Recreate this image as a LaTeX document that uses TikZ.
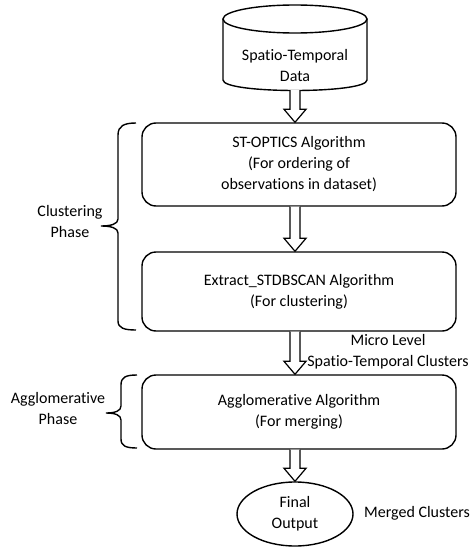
\documentclass[tikz,border=0pt]{standalone}
\usepackage{fontspec}
\setmainfont{Carlito}[Ligatures=NoCommon]
\usetikzlibrary{calc,shapes.geometric}
\newcommand\harrow[2]{%
  \draw[harr] ($(ax |- #1.south)+(-5,0)$) -- ($(ax |- #2.north)+(-5,-13)$) -- ($(ax |- #2.north)+(-11,-13)$) -- (ax |- #2.north) -- ($(ax |- #2.north)+(11,-13)$) -- ($(ax |- #2.north)+(5,-13)$) -- ($(ax |- #1.south)+(5,0)$);}
\begin{document}
\begin{tikzpicture}[x=1pt,y=-1pt,
  every node/.style={font=\fontsize{16}{21}\selectfont, align=center, inner sep=0pt},
  box/.style={draw, line width=1.4pt, rounded corners=14pt, minimum width=314pt},
  harr/.style={draw, line width=1.2pt, fill=white, line join=miter},
  brace/.style={draw, line width=1.4pt}]
\useasboundingbox (0,0) rectangle (472,551);
\coordinate (ax) at (295,0);
% cylinder
\node[minimum width=144pt, minimum height=85pt] (cyl) at (295,47.5) {};
\draw[line width=1.4pt, fill=white] (223,19) -- (223,80) .. controls (223,94) and (367,94) .. (367,80) -- (367,19);
\draw[line width=1.4pt] (295,19) ellipse [x radius=72, y radius=14];
\node (cyltxt) at (295,66) {Spatio-Temporal\\Data};
% boxes
\node[box, minimum height=83pt] (b1) at (299,164.5) {ST-OPTICS Algorithm\\(For ordering of\\observations in dataset)};
\node[box, minimum height=79pt] (b2) at (299,291.5) {Extract\_STDBSCAN Algorithm\\(For clustering)};
\node[box, minimum height=74pt] (b3) at (299,412) {Agglomerative Algorithm\\(For merging)};
\node[draw, ellipse, line width=1.4pt, minimum width=116pt, minimum height=64pt] (fin) at (295,514) {Final\\Output};
% arrows
\harrow{cyl}{b1}
\harrow{b1}{b2}
\harrow{b2}{b3}
\harrow{b3}{fin}
% labels
\node (micro) at (388,352) {Micro Level\\Spatio-Temporal Clusters};
\node (merged) at (417,513) {Merged Clusters};
\node (clus) at (70,222) {Clustering\\Phase};
\node (aggl) at (58,408) {Agglomerative\\Phase};
% braces
\coordinate (br1t) at (136,123);
\coordinate (br1b) at (136,330);
\coordinate (br1m) at (101,226);
\draw[brace] (br1t) .. controls (124,123) and (118,126) .. (118,135) -- (118,219) .. controls (118,224) and (111,226) .. (br1m) .. controls (111,226) and (118,228) .. (118,233) -- (118,321) .. controls (118,328) and (124,330) .. (br1b);
\coordinate (br2t) at (137,375);
\coordinate (br2b) at (137,448);
\coordinate (br2m) at (106,413);
\draw[brace] (br2t) .. controls (126,375) and (121,377) .. (121,385) -- (121,406) .. controls (121,411) and (115,413) .. (br2m) .. controls (115,413) and (121,415) .. (121,420) -- (121,439) .. controls (121,446) and (126,448) .. (br2b);
\end{tikzpicture}
\end{document}
